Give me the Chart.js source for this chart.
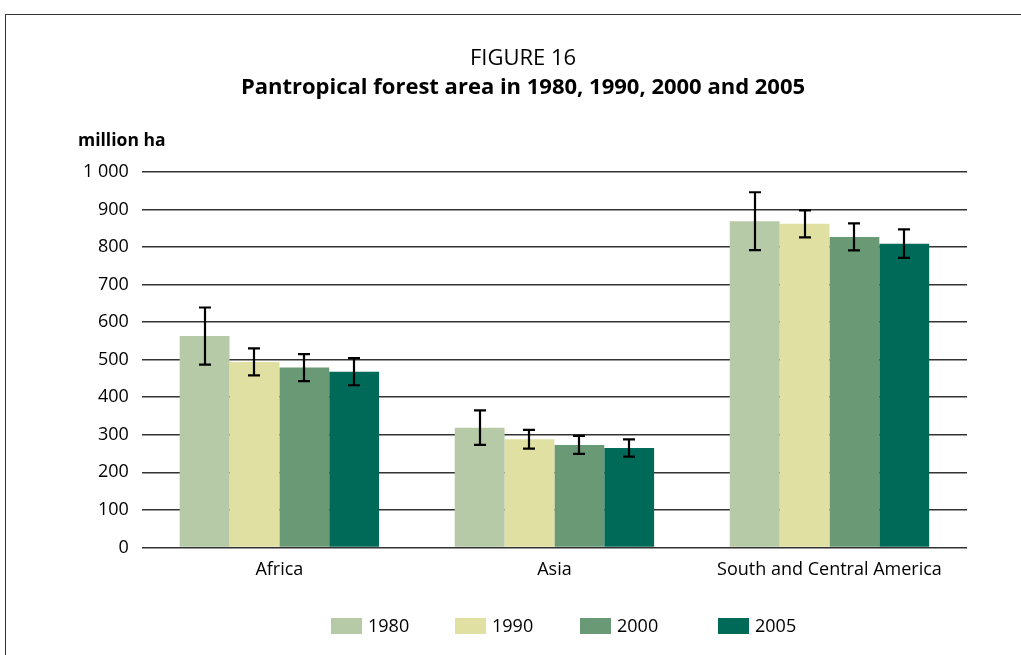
<!DOCTYPE html>
<html>
<head>
<meta charset="utf-8">
<script src="https://cdn.jsdelivr.net/npm/chart.js@4"></script>
<style>
html,body{margin:0;padding:0;background:#fff;}
#wrap{position:relative;width:1021px;height:655px;overflow:hidden;}
#frame{position:absolute;left:5px;top:14px;width:1030px;height:700px;border:1.5px solid #333;box-sizing:border-box;}
canvas{position:absolute;left:0;top:0;}
</style>
</head>
<body>
<div id="wrap"><div id="frame"></div><canvas id="c" width="1021" height="655"></canvas></div>
<script>
const categories = ["Africa", "Asia", "South and Central America"];
const years = ["1980", "1990", "2000", "2005"];
const values1980 = [563, 319, 869];
const values1990 = [494, 288, 862];
const values2000 = [479, 273, 827];
const values2005 = [468, 265, 809];
const err1980 = [76, 46, 77];
const err1990 = [36, 25, 36];
const err2000 = [36, 24, 36];
const err2005 = [36, 23, 38];
const yTicks = [0, 100, 200, 300, 400, 500, 600, 700, 800, 900, 1000];
const colors = ["#b7caa8", "#e0e0a3", "#6a9a75", "#006a58"];

const seriesValues = [values1980, values1990, values2000, values2005];
const seriesErr = [err1980, err1990, err2000, err2005];
const FONT = "'Open Sans', 'DejaVu Sans', sans-serif";

const errorBars = {
  id: 'errorBars',
  afterDatasetsDraw(chart) {
    const ctx = chart.ctx;
    const y = chart.scales.y;
    ctx.save();
    ctx.strokeStyle = '#000';
    ctx.lineWidth = 2.2;
    chart.data.datasets.forEach((ds, di) => {
      const meta = chart.getDatasetMeta(di);
      meta.data.forEach((el, i) => {
        const v = ds.data[i], e = seriesErr[di][i];
        const yHi = y.getPixelForValue(v + e);
        const yLo = y.getPixelForValue(v - e);
        const x = Math.round(el.x);
        ctx.beginPath();
        ctx.moveTo(x, yHi); ctx.lineTo(x, yLo);
        ctx.moveTo(x - 6, yHi); ctx.lineTo(x + 6, yHi);
        ctx.moveTo(x - 6, yLo); ctx.lineTo(x + 6, yLo);
        ctx.stroke();
      });
    });
    ctx.restore();
  }
};

const titles = {
  id: 'titles',
  afterDraw(chart) {
    const ctx = chart.ctx;
    ctx.save();
    ctx.fillStyle = '#000';
    ctx.textAlign = 'center';
    ctx.textBaseline = 'alphabetic';
    ctx.font = "22px " + FONT;
    ctx.fillText("FIGURE 16", 523, 65);
    ctx.font = "bold 22px " + FONT;
    ctx.fillText("Pantropical forest area in 1980, 1990, 2000 and 2005", 523, 94);
    ctx.textAlign = 'left';
    ctx.font = "bold 17.5px " + FONT;
    ctx.fillText("million ha", 78, 146);
    ctx.restore();
  }
};

// legend drawn from the chart's datasets
const bottomLegend = {
  id: 'bottomLegend',
  afterDraw(chart) {
    const ctx = chart.ctx;
    const xs = [331, 455, 580, 718];
    const cy = 626;
    ctx.save();
    ctx.font = "18px " + FONT;
    ctx.textBaseline = 'middle';
    ctx.textAlign = 'left';
    chart.data.datasets.forEach((ds, i) => {
      ctx.fillStyle = ds.backgroundColor;
      ctx.fillRect(xs[i], cy - 8, 31, 16);
      ctx.fillStyle = '#000';
      ctx.fillText(ds.label, xs[i] + 37, cy + 1);
    });
    ctx.restore();
  }
};

new Chart(document.getElementById('c'), {
  type: 'bar',
  data: {
    labels: categories,
    datasets: years.map((yr, i) => ({
      label: yr,
      data: seriesValues[i],
      backgroundColor: colors[i],
      borderWidth: 0,
      categoryPercentage: 0.725,
      barPercentage: 1.0
    }))
  },
  options: {
    responsive: false,
    animation: false,
    devicePixelRatio: 1,
    layout: { padding: { top: 172, left: 70, right: 54, bottom: 62 } },
    plugins: {
      title: { display: false },
      tooltip: { enabled: false },
      legend: { display: false }
    },
    scales: {
      x: {
        grid: { display: false, drawTicks: false },
        border: { display: false },
        ticks: { color: '#000', padding: 12, font: { family: FONT, size: 18 } }
      },
      y: {
        min: 0, max: 1000,
        afterBuildTicks(axis) { axis.ticks = yTicks.map(v => ({ value: v })); },
        grid: { color: '#333', lineWidth: 1.5, drawTicks: false },
        border: { display: false },
        ticks: {
          color: '#000', padding: 13,
          font: { family: FONT, size: 18 },
          callback: v => v >= 1000 ? String(v).replace(/(\d)(\d{3})$/, '$1 $2') : String(v)
        }
      }
    }
  },
  plugins: [errorBars, titles, bottomLegend]
});
</script>
</body>
</html>
